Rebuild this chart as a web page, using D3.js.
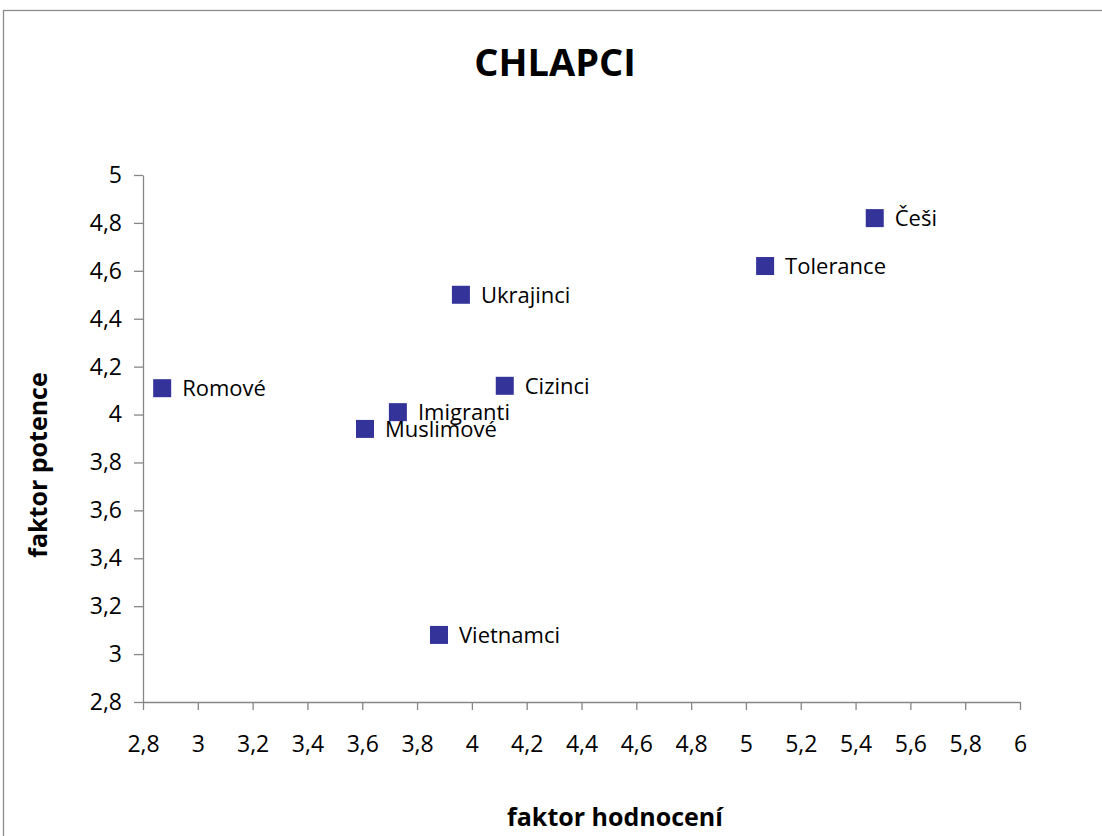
<!DOCTYPE html>
<html>
<head>
<meta charset="utf-8">
<script src="https://cdn.jsdelivr.net/npm/d3@7"></script>
<style>
  body { margin: 0; background: #fff; }
  svg { display: block; font-family: "Open Sans", sans-serif; }
  .axis path, .axis line { stroke: #868686; stroke-width: 1.3; }
  .axis text { fill: #000; font-size: 23px; font-family: "Open Sans", sans-serif; }
</style>
</head>
<body>
<svg id="chart"></svg>
<script>
// categories and values
const names = ['Češi', 'Tolerance', 'Ukrajinci', 'Romové', 'Cizinci', 'Imigranti', 'Muslimové', 'Vietnamci']
const hodnoceni = [5.47, 5.07, 3.96, 2.87, 4.12, 3.73, 3.61, 3.88]
const potence = [4.82, 4.62, 4.50, 4.11, 4.12, 4.01, 3.94, 3.08]
const xTicks = [2.8, 3, 3.2, 3.4, 3.6, 3.8, 4, 4.2, 4.4, 4.6, 4.8, 5, 5.2, 5.4, 5.6, 5.8, 6]
const yTicks = [2.8, 3, 3.2, 3.4, 3.6, 3.8, 4, 4.2, 4.4, 4.6, 4.8, 5]

const width = 1102, height = 836
const margin = { top: 175, right: 82, bottom: 134, left: 143 }
const w = width - margin.left - margin.right
const h = height - margin.top - margin.bottom

const svg = d3.select('#chart')
  .attr('width', width)
  .attr('height', height)

// outer chart frame
svg.append('rect')
  .attr('x', 3.5).attr('y', 10.5)
  .attr('width', width + 10).attr('height', height + 10)
  .attr('fill', 'none')
  .attr('stroke', '#8c8c8c')
  .attr('stroke-width', 1.3)

const fmt = d => String(+d.toFixed(1)).replace('.', ',')

const x = d3.scaleLinear().domain([2.8, 6]).range([0, w])
const y = d3.scaleLinear().domain([2.8, 5]).range([h, 0])

const g = svg.append('g')
  .attr('transform', `translate(${margin.left},${margin.top})`)

g.append('g')
  .attr('class', 'x axis')
  .attr('transform', `translate(0,${h})`)
  .call(d3.axisBottom(x).tickValues(xTicks).tickFormat(fmt).tickSize(8).tickSizeOuter(0).tickPadding(26))

g.append('g')
  .attr('class', 'y axis')
  .call(d3.axisLeft(y).tickValues(yTicks).tickFormat(fmt).tickSize(9).tickSizeOuter(0).tickPadding(12))

const data = names.map((n, i) => ({ name: n, x: hodnoceni[i], y: potence[i] }))
const s = 18

const pts = g.append('g').selectAll('g')
  .data(data)
  .join('g')
  .attr('transform', d => `translate(${x(d.x)},${y(d.y)})`)

pts.append('rect')
  .attr('x', -s / 2).attr('y', -s / 2)
  .attr('width', s).attr('height', s)
  .attr('fill', '#333399')

pts.append('text')
  .attr('x', 20)
  .attr('dy', '0.36em')
  .attr('font-size', 22)
  .text(d => d.name)

svg.append('text')
  .attr('x', 555).attr('y', 76)
  .attr('text-anchor', 'middle')
  .attr('font-size', 38)
  .attr('font-weight', 'bold')
  .text('CHLAPCI')

svg.append('text')
  .attr('x', 615).attr('y', 826)
  .attr('text-anchor', 'middle')
  .attr('font-size', 25)
  .attr('font-weight', 'bold')
  .text('faktor hodnocení')

svg.append('text')
  .attr('transform', 'translate(47,465) rotate(-90)')
  .attr('text-anchor', 'middle')
  .attr('font-size', 25)
  .attr('font-weight', 'bold')
  .text('faktor potence')
</script>
</body>
</html>
